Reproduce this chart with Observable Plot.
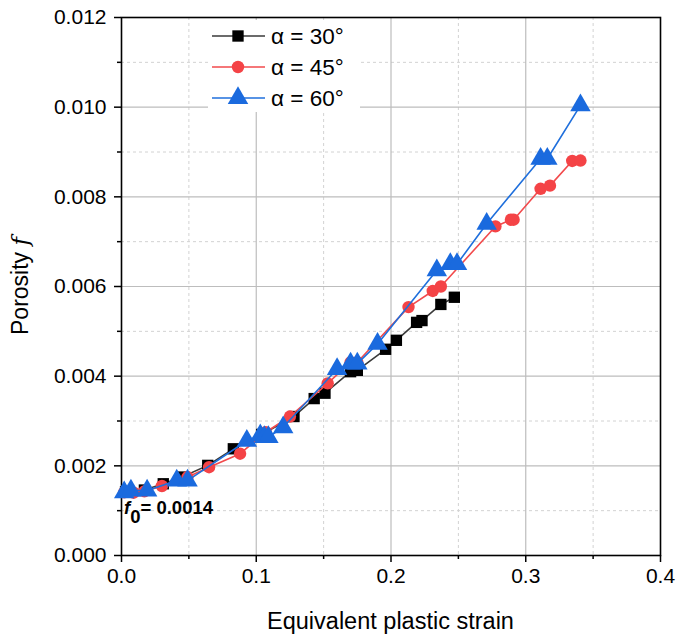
<!DOCTYPE html>
<html>
<head>
<meta charset="utf-8">
<script src="https://cdn.jsdelivr.net/npm/d3@7"></script>
<script src="https://cdn.jsdelivr.net/npm/@observablehq/plot@0.6"></script>
<style>
  html, body { margin: 0; padding: 0; background: #fff; }
  #wrap { position: relative; width: 676px; height: 637px; }
  #legend { position: absolute; left: 208px; top: 20px; width: 152px; height: 92px; background: #fff; }
</style>
</head>
<body>
<div id="wrap"><div id="chart"></div><div id="legend"></div></div>
<script>
// ---- data ----
const seriesNames = ["α = 30°", "α = 45°", "α = 60°"];
const strain30 = [0.003, 0.017, 0.031, 0.045, 0.064, 0.083, 0.104, 0.128, 0.143, 0.151, 0.170, 0.175, 0.196, 0.204, 0.219, 0.223, 0.237, 0.247];
const poro30   = [0.00142, 0.00146, 0.00160, 0.00175, 0.00201, 0.00238, 0.00270, 0.00310, 0.00350, 0.00362, 0.00410, 0.00413, 0.00460, 0.00480, 0.00520, 0.00524, 0.00560, 0.00576];
const strain45 = [0.002, 0.009, 0.017, 0.030, 0.049, 0.065, 0.088, 0.107, 0.125, 0.153, 0.170, 0.175, 0.213, 0.231, 0.237, 0.2775, 0.289, 0.291, 0.311, 0.318, 0.3345, 0.3406];
const poro45   = [0.00141, 0.00140, 0.00143, 0.00155, 0.00175, 0.00197, 0.00227, 0.00275, 0.00310, 0.00384, 0.00431, 0.00431, 0.00554, 0.00590, 0.00600, 0.00734, 0.00749, 0.00749, 0.00818, 0.00825, 0.00880, 0.00881];
const strain60 = [0.002, 0.007, 0.019, 0.041, 0.049, 0.093, 0.103, 0.106, 0.109, 0.120, 0.160, 0.170, 0.175, 0.190, 0.234, 0.244, 0.249, 0.271, 0.311, 0.316, 0.3406];
const poro60   = [0.00141, 0.00145, 0.00145, 0.00167, 0.00167, 0.00256, 0.00268, 0.00264, 0.00264, 0.00286, 0.00416, 0.00428, 0.00428, 0.00472, 0.00636, 0.00650, 0.00650, 0.00740, 0.00885, 0.00885, 0.01004];
const xMajorTicks = [0, 0.1, 0.2, 0.3, 0.4];
const xMinorTicks = [0.05, 0.15, 0.25, 0.35];
const yMajorTicks = [0, 0.002, 0.004, 0.006, 0.008, 0.010, 0.012];
const yMinorTicks = [0.001, 0.003, 0.005, 0.007, 0.009, 0.011];
const f0Label = "0.0014";

const colors = { line: ["#3a3a3a", "#f24a4c", "#1f6fdc"], mark: ["#000000", "#f44346", "#1a6ade"] };
const symbols = ["square", "circle", "triangle"];
const radii = [6.4, 6.2, 7.6];

const sets = [[strain30, poro30], [strain45, poro45], [strain60, poro60]].map(([xs, ys], i) =>
  xs.map((x, j) => ({ x, y: ys[j], s: seriesNames[i] })));

const font = "'Liberation Sans', Arial, sans-serif";

const marks = [
  Plot.ruleX(xMinorTicks, { stroke: "#d2d2d2", strokeDasharray: "3,3", strokeWidth: 1 }),
  Plot.ruleY(yMinorTicks, { stroke: "#d2d2d2", strokeDasharray: "3,3", strokeWidth: 1 }),
  Plot.ruleX(xMajorTicks.slice(1, -1), { stroke: "#bdbdbd", strokeWidth: 1.2 }),
  Plot.ruleY(yMajorTicks.slice(1, -1), { stroke: "#bdbdbd", strokeWidth: 1.2 }),
  Plot.axisX({ ticks: xMajorTicks, tickSize: 7, tickFormat: d3.format(".1f"), tickPadding: 6, label: null, strokeWidth: 1.5 }),
  Plot.axisX({ ticks: xMinorTicks, tickSize: 4, tickFormat: () => "", label: null, strokeWidth: 1.5 }),
  Plot.axisY({ ticks: yMajorTicks, tickSize: 7, tickFormat: d3.format(".3f"), tickPadding: 8, label: null, strokeWidth: 1.5 }),
  Plot.axisY({ ticks: yMinorTicks, tickSize: 4, tickFormat: () => "", label: null, strokeWidth: 1.5 }),
  Plot.frame({ stroke: "#000", strokeWidth: 1.6 })
];
sets.forEach((data, i) => {
  marks.push(Plot.line(data, { x: "x", y: "y", stroke: colors.line[i], strokeWidth: 1.6 }));
  marks.push(Plot.dot(data, { x: "x", y: "y", symbol: () => symbols[i], r: radii[i], fill: colors.mark[i], stroke: "none" }));
});

const chart = Plot.plot({
  width: 676, height: 637,
  marginLeft: 121, marginRight: 16, marginTop: 17, marginBottom: 82,
  style: { fontFamily: font, fontSize: "21px", color: "#000", background: "#fff", overflow: "visible" },
  x: { domain: [0, 0.4] },
  y: { domain: [0, 0.012] },
  marks
});
document.getElementById("chart").appendChild(chart);

const svg = d3.select(chart);
svg.selectAll('g[aria-label$="tick label"]').attr("font-size", 21).selectAll("text").attr("font-size", 21);
const xs = chart.scale("x");
// axis titles
svg.append("text").attr("x", (121 + 660) / 2).attr("y", 629).attr("text-anchor", "middle")
  .attr("font-family", font).attr("font-size", 23.5).attr("fill", "#000").text("Equivalent plastic strain");
const yl = svg.append("text").attr("transform", `translate(28,${(17 + 555) / 2}) rotate(-90)`).attr("text-anchor", "middle")
  .attr("font-family", font).attr("font-size", 23).attr("fill", "#000");
yl.append("tspan").text("Porosity ");
yl.append("tspan").attr("font-family", "'DejaVu Serif', serif").attr("font-style", "italic").text("f");
// f0 annotation
const ann = svg.append("text").attr("x", xs.apply(0) + 3).attr("y", 514).attr("text-anchor", "start")
  .attr("font-family", font).attr("font-size", 18.5).attr("font-weight", "bold").attr("fill", "#000");
ann.append("tspan").attr("font-style", "italic").text("f");
ann.append("tspan").attr("dy", 9).text("0");
ann.append("tspan").attr("dy", -9).text("= " + f0Label);

// legend
const lg = d3.select("#legend").append("svg").attr("width", 152).attr("height", 92);
seriesNames.forEach((name, i) => {
  const cy = 16 + i * 31;
  lg.append("line").attr("x1", 4).attr("x2", 57).attr("y1", cy).attr("y2", cy).attr("stroke", colors.line[i]).attr("stroke-width", 1.6);
  const sym = { square: d3.symbolSquare, circle: d3.symbolCircle, triangle: d3.symbolTriangle }[symbols[i]];
  lg.append("path").attr("d", d3.symbol(sym, Math.PI * radii[i] * radii[i])()).attr("transform", `translate(30,${cy})`).attr("fill", colors.mark[i]);
  lg.append("text").attr("x", 63).attr("y", cy + 8).attr("font-family", font).attr("font-size", 22.5).attr("fill", "#000").text(name);
});
</script>
</body>
</html>
